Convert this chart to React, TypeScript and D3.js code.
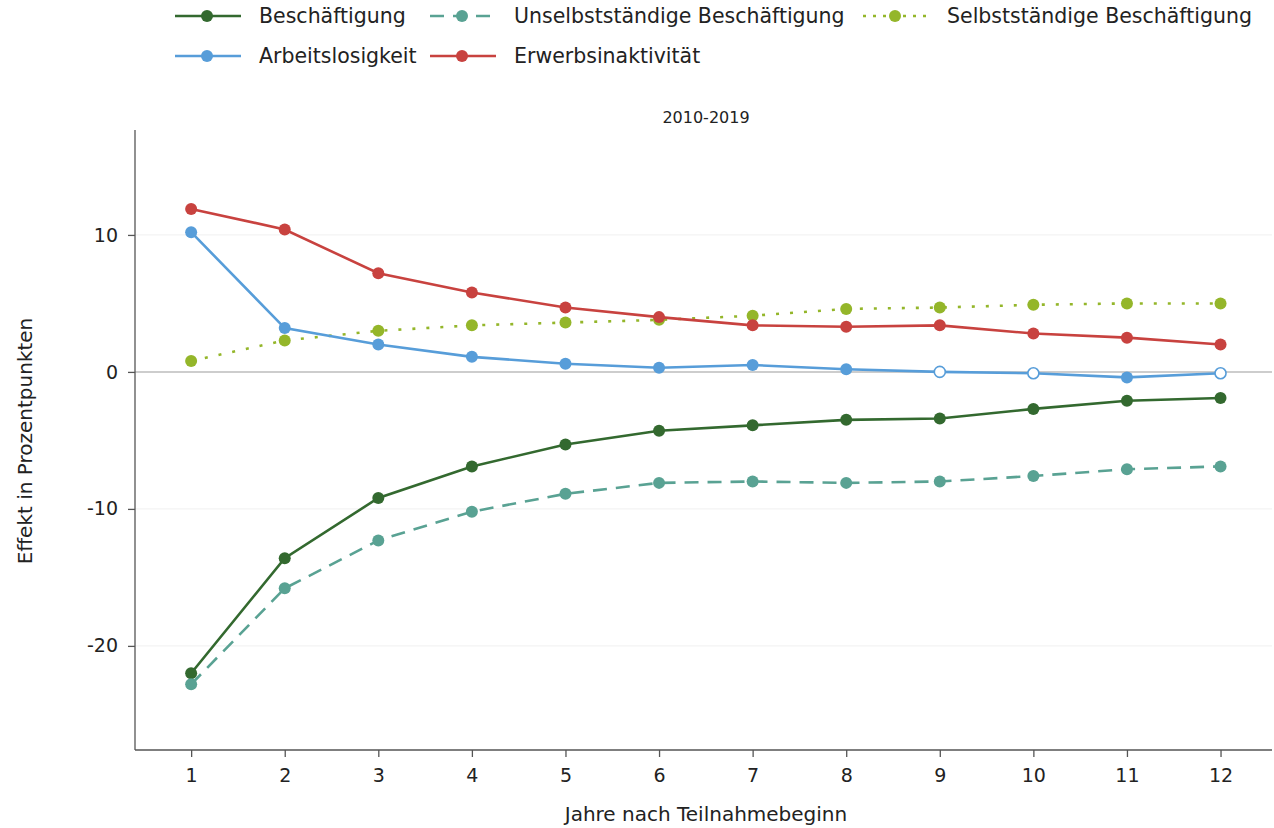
import React, { useEffect, useRef } from "react";
import * as d3 from "d3";

const years = [1, 2, 3, 4, 5, 6, 7, 8, 9, 10, 11, 12];
const beschaeftigung = [-22.0, -13.6, -9.2, -6.9, -5.3, -4.3, -3.9, -3.5, -3.4, -2.7, -2.1, -1.9];
const unselbststaendig = [-22.8, -15.8, -12.3, -10.2, -8.9, -8.1, -8.0, -8.1, -8.0, -7.6, -7.1, -6.9];
const selbststaendig = [0.8, 2.3, 3.0, 3.4, 3.6, 3.8, 4.1, 4.6, 4.7, 4.9, 5.0, 5.0];
const arbeitslosigkeit = [10.2, 3.2, 2.0, 1.1, 0.6, 0.3, 0.5, 0.2, 0.0, -0.1, -0.4, -0.1];
const erwerbsinaktivitaet = [11.9, 10.4, 7.2, 5.8, 4.7, 4.0, 3.4, 3.3, 3.4, 2.8, 2.5, 2.0];
// false = not significant (drawn hollow)
const arbeitslosSig = [true, true, true, true, true, true, true, true, false, false, true, false];
const yTicks = [-20, -10, 0, 10];

const FONT = "'Century Gothic', 'DejaVu Sans', sans-serif";

export default function App() {
  const ref = useRef<SVGSVGElement>(null);

  useEffect(() => {
    const width = 1274;
    const height = 828;
    const left = 135, right = 1272, top = 130, bottom = 750;

    const svg = d3.select(ref.current);
    svg.selectAll("*").remove();
    svg.attr("width", width).attr("height", height);

    const x = d3.scaleLinear().domain([0.4, 12.55]).range([left, right]);
    const y = d3.scaleLinear().domain([-27.6, 17.66]).range([bottom, top]);

    const series = [
      { name: "Beschäftigung", values: beschaeftigung, color: "#33692f", dash: null as string | null, sig: null as boolean[] | null },
      { name: "Unselbstständige Beschäftigung", values: unselbststaendig, color: "#59a293", dash: "14,9", sig: null },
      { name: "Selbstständige Beschäftigung", values: selbststaendig, color: "#94b62a", dash: "3,11", sig: null },
      { name: "Arbeitslosigkeit", values: arbeitslosigkeit, color: "#579dd9", dash: null, sig: arbeitslosSig },
      { name: "Erwerbsinaktivität", values: erwerbsinaktivitaet, color: "#c8423f", dash: null, sig: null },
    ];

    // grid
    const g = svg.append("g");
    g.selectAll("line.grid")
      .data(yTicks)
      .enter()
      .append("line")
      .attr("x1", left)
      .attr("x2", right)
      .attr("y1", d => y(d))
      .attr("y2", d => y(d))
      .attr("stroke", d => (d === 0 ? "#bdbdbd" : "#f0f0f0"))
      .attr("stroke-width", d => (d === 0 ? 1.5 : 1));

    // axes
    const yAxis = g.append("g")
      .attr("transform", `translate(${left},0)`)
      .call(d3.axisLeft(y).tickValues(yTicks).tickSize(7).tickPadding(10).tickFormat(d => String(d)));
    yAxis.select(".domain").attr("d", `M0,${top}V${bottom}`);

    const xAxis = g.append("g")
      .attr("transform", `translate(0,${bottom})`)
      .call(d3.axisBottom(x).tickValues(years).tickSize(7).tickPadding(12).tickFormat(d => String(d)));
    xAxis.select(".domain").attr("d", `M${left},0H${right}`);

    [yAxis, xAxis].forEach(a => {
      a.select(".domain").attr("stroke", "#555").attr("stroke-width", 1.3);
      a.selectAll(".tick line").attr("stroke", "#555").attr("stroke-width", 1.3);
      a.selectAll(".tick text").attr("fill", "#222").style("font-family", FONT).style("font-size", "19px");
    });

    // lines
    const line = d3.line<number>().x((_, i) => x(years[i])).y(d => y(d));
    series.forEach(s => {
      g.append("path")
        .datum(s.values)
        .attr("d", line)
        .attr("fill", "none")
        .attr("stroke", s.color)
        .attr("stroke-width", 2.6)
        .attr("stroke-dasharray", s.dash);
      g.selectAll(null)
        .data(s.values)
        .enter()
        .append("circle")
        .attr("cx", (_, i) => x(years[i]))
        .attr("cy", d => y(d))
        .attr("r", (_, i) => (s.sig && !s.sig[i] ? 5.5 : 6))
        .attr("fill", (_, i) => (s.sig && !s.sig[i] ? "#fff" : s.color))
        .attr("stroke", s.color)
        .attr("stroke-width", (_, i) => (s.sig && !s.sig[i] ? 1.6 : 0));
    });

    // title + axis labels
    svg.append("text")
      .attr("x", 706)
      .attr("y", 123)
      .attr("text-anchor", "middle")
      .style("font-family", FONT)
      .style("font-size", "16px")
      .attr("fill", "#222")
      .text("2010-2019");

    svg.append("text")
      .attr("x", 706)
      .attr("y", 821)
      .attr("text-anchor", "middle")
      .style("font-family", FONT)
      .style("font-size", "20px")
      .attr("fill", "#222")
      .text("Jahre nach Teilnahmebeginn");

    svg.append("text")
      .attr("transform", `translate(32,441) rotate(-90)`)
      .attr("text-anchor", "middle")
      .style("font-family", FONT)
      .style("font-size", "20px")
      .attr("fill", "#222")
      .text("Effekt in Prozentpunkten");

    // legend
    const legendPos = [
      { x: 175, y: 16 },
      { x: 430, y: 16 },
      { x: 863, y: 16 },
      { x: 175, y: 56 },
      { x: 430, y: 56 },
    ];
    series.forEach((s, i) => {
      const p = legendPos[i];
      const lg = svg.append("g").attr("transform", `translate(${p.x},${p.y})`);
      lg.append("line")
        .attr("x1", 0)
        .attr("x2", 66)
        .attr("y1", 0)
        .attr("y2", 0)
        .attr("stroke", s.color)
        .attr("stroke-width", 2.6)
        .attr("stroke-dasharray", s.dash ? (s.dash === "3,11" ? "3,7" : "14,9") : null);
      lg.append("circle").attr("cx", 32).attr("cy", 0).attr("r", 6).attr("fill", s.color);
      lg.append("text")
        .attr("x", 84)
        .attr("y", 0)
        .attr("dy", "0.35em")
        .style("font-family", FONT)
        .style("font-size", "20.5px")
        .attr("fill", "#222")
        .text(s.name);
    });
  }, []);

  return <svg ref={ref} style={{ display: "block", position: "absolute", left: 0, top: 0 }} />;
}
